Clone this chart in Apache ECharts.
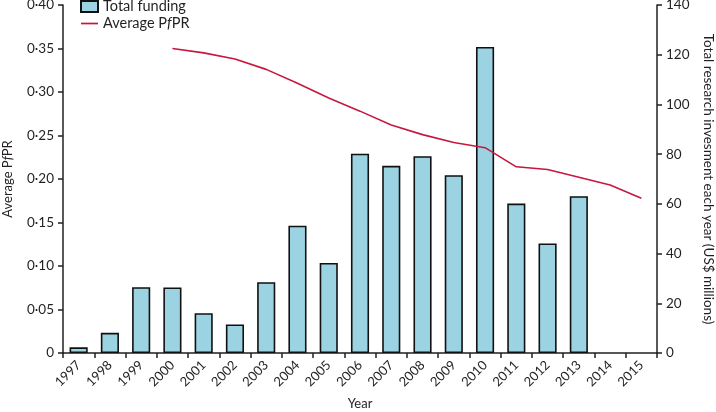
<!DOCTYPE html>
<html>
<head>
<meta charset="utf-8">
<script src="https://cdn.jsdelivr.net/npm/echarts@6/dist/echarts.min.js"></script>
<style>html,body{margin:0;padding:0;background:#fff;}#c{width:716px;height:412px;}</style>
</head>
<body>
<div id="c"></div>
<script>
const years = ['1997','1998','1999','2000','2001','2002','2003','2004','2005','2006','2007','2008','2009','2010','2011','2012','2013','2014','2015'];
const totalFunding = [2.3, 8.1, 26.5, 26.4, 16.0, 11.5, 28.5, 51.2, 36.2, 80.2, 75.3, 79.2, 71.5, 123.1, 60.1, 44.1, 63.1, null, null];
const averagePfPR = [null, null, null, 0.350, 0.345, 0.338, 0.326, 0.310, 0.293, 0.278, 0.262, 0.251, 0.242, 0.236, 0.214, 0.211, 0.202, 0.193, 0.178];
const leftTicks = {min: 0, max: 0.4, interval: 0.05};
const rightTicks = {min: 0, max: 140, interval: 20};

const FONT = 'Lato';
const TXT = '#231f20';
const LINE_COLOR = '#c8173f';
const axisLine = {show: true, lineStyle: {color: TXT, width: 1.5}};
const axisTick = {show: true, length: 5, lineStyle: {color: TXT, width: 1.5}};

const chart = echarts.init(document.getElementById('c'));
chart.setOption({
  animation: false,
  textStyle: {fontFamily: FONT, color: TXT},
  grid: {left: 63, right: 59, top: 5, bottom: 59, containLabel: false, outerBoundsMode: 'none'},
  legend: {
    left: 80, top: -1, padding: 0, orient: 'vertical', itemGap: 2,
    itemWidth: 17, itemHeight: 11,
    textStyle: {fontFamily: FONT, fontSize: 14.5, color: TXT, rich: {i: {fontStyle: 'italic', fontSize: 14.5, fontFamily: FONT, color: TXT}}},
    formatter: n => n === 'Average PfPR' ? 'Average P{i|f}PR' : n,
    data: [
      {name: 'Total funding', icon: 'rect'},
      {name: 'Average PfPR', icon: 'path://M0,0h20v2h-20z', itemStyle: {color: LINE_COLOR}}
    ]
  },
  xAxis: {
    type: 'category', data: years, boundaryGap: true,
    name: 'Year', nameLocation: 'middle', nameGap: 44,
    nameTextStyle: {fontFamily: FONT, fontSize: 13, color: TXT},
    axisLine: axisLine, axisTick: Object.assign({alignWithLabel: false, interval: 0}, axisTick),
    axisLabel: {rotate: 45, interval: 0, fontSize: 13, color: TXT, fontFamily: FONT, margin: 10}
  },
  yAxis: [
    {
      type: 'value', position: 'left', min: leftTicks.min, max: leftTicks.max, interval: leftTicks.interval,
      name: 'Average P{i|f}PR', nameLocation: 'middle', nameGap: 49, nameRotate: 90,
      nameTextStyle: {fontFamily: FONT, fontSize: 13, color: TXT, rich: {i: {fontStyle: 'italic', fontSize: 13, fontFamily: FONT, color: TXT}}},
      axisLine: axisLine, axisTick: axisTick, splitLine: {show: false},
      axisLabel: {fontSize: 13.5, color: TXT, fontFamily: FONT, margin: 9,
        formatter: v => v === 0 ? '0' : v.toFixed(2).replace('.', '\u00B7')}
    },
    {
      type: 'value', position: 'right', min: rightTicks.min, max: rightTicks.max, interval: rightTicks.interval,
      name: 'Total research invesment each year (US$ millions)', nameLocation: 'middle', nameGap: 44, nameRotate: -90,
      nameTextStyle: {fontFamily: FONT, fontSize: 13.5, color: TXT},
      axisLine: axisLine, axisTick: axisTick, splitLine: {show: false},
      axisLabel: {fontSize: 13.5, color: TXT, fontFamily: FONT, margin: 9}
    }
  ],
  series: [
    {
      name: 'Total funding', type: 'bar', yAxisIndex: 1, data: totalFunding, barWidth: '58%',
      itemStyle: {color: '#9bd3e3', borderColor: '#111', borderWidth: 1.6}
    },
    {
      name: 'Average PfPR', type: 'line', yAxisIndex: 0, data: averagePfPR, symbol: 'none',
      lineStyle: {color: LINE_COLOR, width: 1.6}, itemStyle: {color: LINE_COLOR}, z: 5
    }
  ]
});
</script>
</body>
</html>
